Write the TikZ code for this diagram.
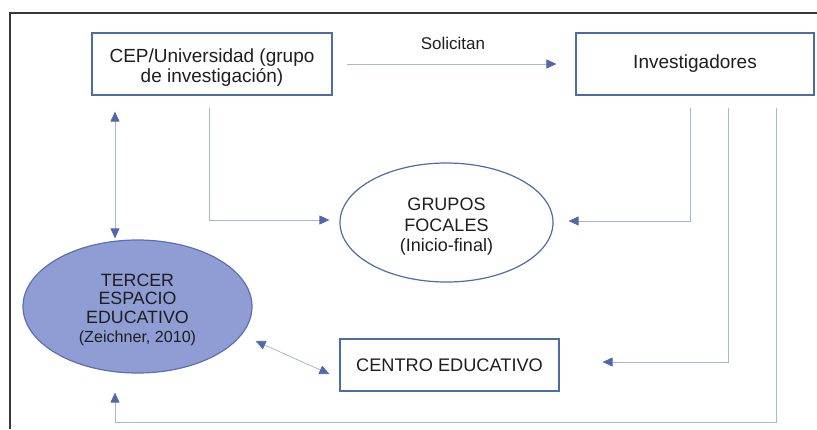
\documentclass[tikz,border=0pt]{standalone}
\usepackage{fontspec}
\setmainfont{Liberation Sans}
\usetikzlibrary{arrows.meta,shapes.geometric}
\definecolor{boxblue}{RGB}{76,108,166}
\definecolor{lineblue}{RGB}{168,182,210}
\definecolor{tipblue}{RGB}{78,104,170}
\definecolor{ellfill}{RGB}{143,157,212}
\definecolor{ellline}{RGB}{92,112,176}
\definecolor{framegray}{RGB}{55,55,55}
\definecolor{txt}{RGB}{30,30,30}
\tikzset{
  boxnode/.style={draw=boxblue, line width=1.2pt, rectangle, inner sep=0pt, align=center, text=txt},
  ellnode/.style={draw=boxblue, line width=1.2pt, ellipse, inner sep=0pt, align=center, text=txt},
  conn/.style={draw=lineblue, line width=0.9pt, -{Triangle[length=10pt,width=9pt,color=tipblue]}},
  dconn/.style={draw=lineblue, line width=0.9pt, {Triangle[length=10pt,width=9pt,color=tipblue]}-{Triangle[length=10pt,width=9pt,color=tipblue]}},
}
\newcommand{\stk}[2]{\raisebox{0pt}[\dimexpr\height+#1\relax][\depth]{\begin{tabular}{@{}c@{}}#2\end{tabular}}}
\begin{document}
\begin{tikzpicture}[x=1pt,y=-1pt]
\useasboundingbox (0,0) rectangle (817,429);
\draw[framegray, line width=1.3pt] (10,429) -- (10,13) -- (817,13);

\node[boxnode, minimum width=240pt, minimum height=62pt,
      font=\fontsize{19}{20.5}\selectfont] (cep) at (212,64)
      {\stk{9pt}{CEP/Universidad (grupo\\de investigación)}};
\node[boxnode, minimum width=238pt, minimum height=62pt,
      font=\fontsize{19}{21}\selectfont] (inv) at (695,64) {Investigadores};
\node[font=\fontsize{17}{19}\selectfont, inner sep=0pt, text=txt] (sol) at (453,43) {Solicitan};
\node[ellnode, minimum width=213pt, minimum height=119pt,
      font=\fontsize{18}{20.3}\selectfont] (grupos) at (446.5,222.5)
      {\stk{9pt}{GRUPOS\\FOCALES\\(Inicio-final)}};
\node[boxnode, minimum width=219pt, minimum height=52pt,
      font=\fontsize{18.2}{20}\selectfont] (centro) at (449.5,365) {CENTRO EDUCATIVO};
\node[ellnode, draw=ellline, fill=ellfill, minimum width=229pt, minimum height=133pt,
      font=\fontsize{17.8}{18.6}\selectfont] (tercer) at (137.5,306.5)
      {\stk{8pt}{TERCER\\ESPACIO\\EDUCATIVO\\{\fontsize{16.1}{18.6}\selectfont (Zeichner, 2010)}}};

\draw[conn] ([xshift=14pt]cep.east) -- ([xshift=-19pt]inv.west);
\draw[conn] ([xshift=-3pt,yshift=-12pt]cep.south) |- ([xshift=-10pt,yshift=2.5pt]grupos.west);
\draw[conn] ([xshift=-5pt,yshift=-12pt]inv.south) |- ([xshift=15pt,yshift=1.5pt]grupos.east);
\draw[conn] ([xshift=33pt,yshift=-12pt]inv.south) |- ([xshift=43pt,yshift=3pt]centro.east);
\draw[conn] ([xshift=81pt,yshift=-12pt]inv.south) -- ++(0,315) -| ([xshift=-22.5pt,yshift=-19pt]tercer.south);
\draw[dconn] ([xshift=-97pt,yshift=-16pt]cep.south) -- ([xshift=-22.5pt,yshift=1pt]tercer.north);
\draw[dconn, draw=lineblue!85!gray, line width=0.7pt] ([xshift=3pt,yshift=-34.5pt]tercer.east) -- ([xshift=-10pt,yshift=-9pt]centro.west);
\end{tikzpicture}
\end{document}
